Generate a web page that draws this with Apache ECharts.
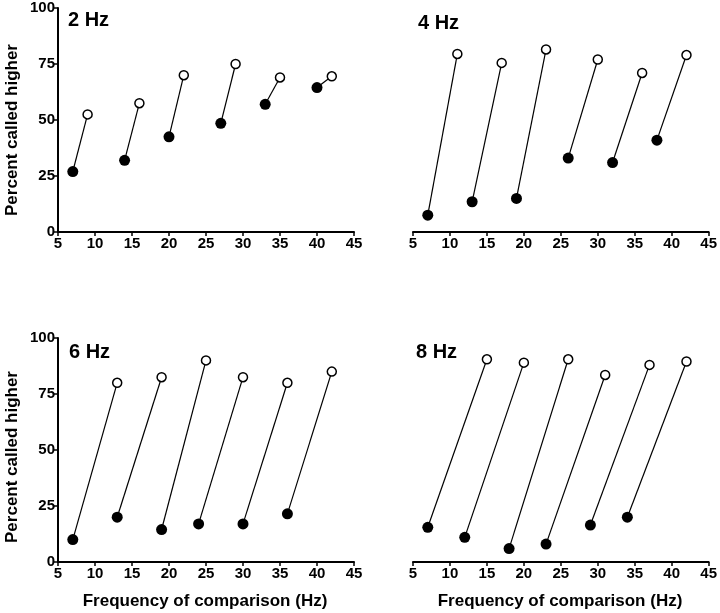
<!DOCTYPE html>
<html><head><meta charset="utf-8">
<script src="https://cdn.jsdelivr.net/npm/echarts@6/dist/echarts.min.js"></script>
<style>html,body{margin:0;padding:0;background:#fff}#c{width:720px;height:613px}</style>
</head><body><div id="c"></div>
<script>
// Panel labels
var panelNames = ['2 Hz', '4 Hz', '6 Hz', '8 Hz'];
var xTicks = [5, 10, 15, 20, 25, 30, 35, 40, 45];
var yTicks = [0, 25, 50, 75, 100];
// Lower comparison (filled) and higher comparison (open)
var hz2_loX = [7, 14, 20, 27, 33, 40];
var hz2_loY = [27, 32, 42.5, 48.5, 57, 64.5];
var hz2_hiX = [9, 16, 22, 29, 35, 42];
var hz2_hiY = [52.5, 57.5, 70, 75, 69, 69.5];

var hz4_loX = [7, 13, 19, 26, 32, 38];
var hz4_loY = [7.5, 13.5, 15, 33, 31, 41];
var hz4_hiX = [11, 17, 23, 30, 36, 42];
var hz4_hiY = [79.5, 75.5, 81.5, 77, 71, 79];

var hz6_loX = [7, 13, 19, 24, 30, 36];
var hz6_loY = [10, 20, 14.5, 17, 17, 21.5];
var hz6_hiX = [13, 19, 25, 30, 36, 42];
var hz6_hiY = [80, 82.5, 90, 82.5, 80, 85];

var hz8_loX = [7, 12, 18, 23, 29, 34];
var hz8_loY = [15.5, 11, 6, 8, 16.5, 20];
var hz8_hiX = [15, 20, 26, 31, 37, 42];
var hz8_hiY = [90.5, 89, 90.5, 83.5, 88, 89.5];

var panels = [
  {loX: hz2_loX, loY: hz2_loY, hiX: hz2_hiX, hiY: hz2_hiY},
  {loX: hz4_loX, loY: hz4_loY, hiX: hz4_hiX, hiY: hz4_hiY},
  {loX: hz6_loX, loY: hz6_loY, hiX: hz6_hiX, hiY: hz6_hiY},
  {loX: hz8_loX, loY: hz8_loY, hiX: hz8_hiX, hiY: hz8_hiY}
];

var FONT = '"Liberation Sans", Arial, Helvetica, sans-serif';
var grids = [
  {left: 58, top: 8, width: 296, height: 224},
  {left: 413, top: 8, width: 296, height: 224},
  {left: 58, top: 338, width: 296, height: 224},
  {left: 413, top: 338, width: 296, height: 224}
];
var xAxes = [], yAxes = [], series = [];
grids.forEach(function (g, i) {
  xAxes.push({
    type: 'value', gridIndex: i, min: xTicks[0], max: xTicks[xTicks.length - 1], interval: 5,
    axisLine: {lineStyle: {color: '#000', width: 2}},
    axisTick: {show: true, length: 4, lineStyle: {color: '#000', width: 1.5}},
    axisLabel: {color: '#000', fontFamily: FONT, fontWeight: 'bold', fontSize: 15, margin: 4},
    splitLine: {show: false}
  });
  var showY = (i % 2 === 0);
  yAxes.push({
    type: 'value', gridIndex: i, min: yTicks[0], max: yTicks[yTicks.length - 1], interval: 25,
    show: showY,
    axisLine: {show: true, lineStyle: {color: '#000', width: 2}},
    axisTick: {show: true, length: 4, lineStyle: {color: '#000', width: 1.5}},
    axisLabel: {color: '#000', fontFamily: FONT, fontWeight: 'bold', fontSize: 15, margin: 3},
    splitLine: {show: false}
  });
  var p = panels[i];
  for (var k = 0; k < p.loX.length; k++) {
    series.push({
      type: 'line', xAxisIndex: i, yAxisIndex: i, showSymbol: false, silent: true,
      lineStyle: {color: '#000', width: 1.2},
      data: [[p.loX[k], p.loY[k]], [p.hiX[k], p.hiY[k]]]
    });
  }
  series.push({
    type: 'scatter', xAxisIndex: i, yAxisIndex: i, symbol: 'circle', symbolSize: 11,
    itemStyle: {color: '#000', opacity: 1}, z: 3,
    data: p.loX.map(function (x, k) { return [x, p.loY[k]]; })
  });
  series.push({
    type: 'scatter', xAxisIndex: i, yAxisIndex: i, symbol: 'circle', symbolSize: 9,
    itemStyle: {color: '#fff', borderColor: '#000', borderWidth: 1.5, opacity: 1}, z: 3,
    data: p.hiX.map(function (x, k) { return [x, p.hiY[k]]; })
  });
});

var tStyle = {fill: '#000', font: 'bold 20px ' + FONT};
var aStyle = {fill: '#000', font: 'bold 17px ' + FONT};
var graphic = [
  {type: 'text', left: 68, top: 10, style: Object.assign({text: panelNames[0]}, tStyle)},
  {type: 'text', left: 418, top: 13, style: Object.assign({text: panelNames[1]}, tStyle)},
  {type: 'text', left: 69, top: 342, style: Object.assign({text: panelNames[2]}, tStyle)},
  {type: 'text', left: 416, top: 342, style: Object.assign({text: panelNames[3]}, tStyle)},
  {type: 'text', x: 205, y: 601, style: Object.assign({text: 'Frequency of comparison (Hz)', textAlign: 'center', textVerticalAlign: 'middle'}, aStyle)},
  {type: 'text', x: 560, y: 601, style: Object.assign({text: 'Frequency of comparison (Hz)', textAlign: 'center', textVerticalAlign: 'middle'}, aStyle)},
  {type: 'text', x: 12, y: 130, rotation: Math.PI / 2, style: Object.assign({text: 'Percent called higher', textAlign: 'center', textVerticalAlign: 'middle'}, aStyle)},
  {type: 'text', x: 12, y: 457, rotation: Math.PI / 2, style: Object.assign({text: 'Percent called higher', textAlign: 'center', textVerticalAlign: 'middle'}, aStyle)}
];

var chart = echarts.init(document.getElementById('c'), null, {renderer: 'canvas'});
chart.setOption({
  animation: false,
  backgroundColor: '#fff',
  grid: grids,
  xAxis: xAxes,
  yAxis: yAxes,
  series: series,
  graphic: graphic
});
</script></body></html>
